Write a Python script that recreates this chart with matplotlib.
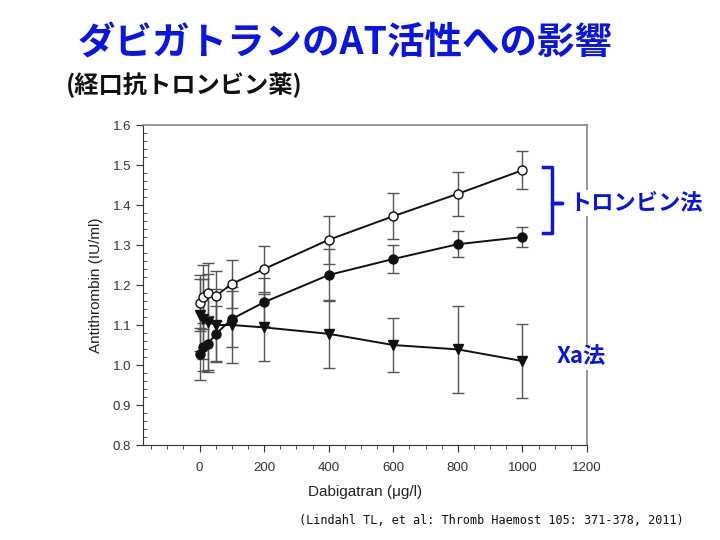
import matplotlib.pyplot as plt
from matplotlib.ticker import MultipleLocator

plt.rcParams['font.family'] = ['Liberation Sans', 'Noto Sans CJK JP', 'DejaVu Sans']

# dabigatran concentration (ug/l)
dose = [0, 10, 25, 50, 100, 200, 400, 600, 800, 1000]

# thrombin-based method, open circles
open_vals = [1.155, 1.171, 1.179, 1.172, 1.203, 1.240, 1.313, 1.372, 1.428, 1.487]
open_err = [0.070, 0.080, 0.075, 0.063, 0.060, 0.058, 0.060, 0.058, 0.055, 0.048]
# thrombin-based method, filled circles
filled_vals = [1.028, 1.045, 1.052, 1.077, 1.115, 1.157, 1.225, 1.265, 1.302, 1.320]
filled_err = [0.065, 0.060, 0.070, 0.070, 0.070, 0.060, 0.065, 0.034, 0.033, 0.024]
# Xa-based method, triangles
tri_vals = [1.125, 1.115, 1.108, 1.100, 1.100, 1.094, 1.078, 1.050, 1.039, 1.010]
tri_err = [0.090, 0.100, 0.120, 0.090, 0.095, 0.083, 0.085, 0.067, 0.108, 0.092]

blue = '#0a14e6'

fig = plt.figure(figsize=(7.2, 5.4), dpi=100)
ax = fig.add_axes([0.1986, 0.1759, 0.6167, 0.5926])

for vals, err, mk, fc in [(open_vals, open_err, 'o', 'white'),
                          (filled_vals, filled_err, 'o', '#111111'),
                          (tri_vals, tri_err, 'v', '#111111')]:
    ax.errorbar(dose, vals, yerr=err, fmt='none', ecolor='#555555',
                elinewidth=1.0, capsize=4, capthick=1.0, zorder=2)
    ax.plot(dose, vals, color='#111111', lw=1.4, marker=mk, ms=6.5,
            mfc=fc, mec='#111111', mew=1.0, zorder=3)

ax.set_xlim(-175, 1200)
ax.set_ylim(0.8, 1.6)
ax.xaxis.set_minor_locator(MultipleLocator(50))
ax.yaxis.set_major_locator(MultipleLocator(0.1))
ax.yaxis.set_minor_locator(MultipleLocator(0.02))
ax.set_xticks([0, 200, 400, 600, 800, 1000, 1200])
ax.yaxis.set_major_formatter(plt.FuncFormatter(lambda v, p: f'{v:.1f}'))

ax.tick_params(axis='both', which='major', labelsize=9.5, colors='#333333', length=5)
ax.tick_params(axis='x', which='major', direction='out', pad=7)
ax.tick_params(axis='x', which='minor', direction='out', length=3, color='#333333')
ax.tick_params(axis='y', which='minor', direction='in', length=3, color='#333333')
for s in ['left', 'bottom']:
    ax.spines[s].set_color('#333333')
for s in ['top', 'right']:
    ax.spines[s].set_color('#888888')
    ax.spines[s].set_linewidth(1.2)

ax.set_xlabel('Dabigatran (μg/l)', fontsize=11, color='#222222', labelpad=8)
ax.set_ylabel('Antithrombin (IU/ml)', fontsize=11, color='#222222', labelpad=7)

# titles
fig.text(0.108, 0.922, 'ダビガトランのAT活性への影響', fontsize=27, fontweight='bold',
         color=blue, family=['Noto Sans CJK JP'], va='center')
fig.text(0.092, 0.842, '(経口抗トロンビン薬)', fontsize=17.5, fontweight='bold',
         color='#111111', family=['Noto Sans CJK JP'], va='center')

# bracket for thrombin methods
bx = [543, 552, 552, 562, 552, 552, 543]
by = [167, 167, 203, 203, 203, 233, 233]
fig.add_artist(plt.Line2D([x / 720 for x in bx], [1 - y / 540 for y in by],
                          color=blue, lw=2.5, transform=fig.transFigure))
fig.text(0.790, 1 - 203 / 540, 'トロンビン法', fontsize=16, fontweight='bold', color=blue,
         family=['Noto Sans CJK JP'], va='center',
         bbox=dict(facecolor='white', edgecolor='none', pad=1))
fig.text(0.773, 1 - 357 / 540, 'Xa法', fontsize=16, fontweight='bold', color=blue,
         family=['Noto Sans CJK JP'], va='center',
         bbox=dict(facecolor='white', edgecolor='none', pad=1))

fig.text(0.415, 1 - 521 / 540, '(Lindahl TL, et al: Thromb Haemost 105: 371-378, 2011)',
         fontsize=8.5, color='#111111', family=['DejaVu Sans Mono'], va='center')

fig.savefig('out.png', dpi=100)
